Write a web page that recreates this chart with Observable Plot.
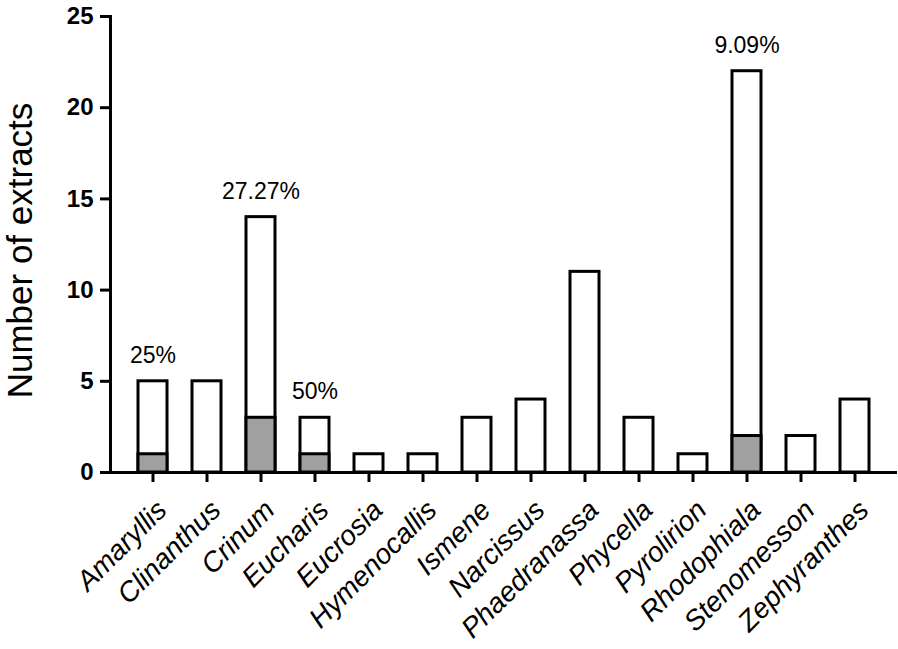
<!DOCTYPE html>
<html>
<head>
<meta charset="utf-8">
<script src="https://cdn.jsdelivr.net/npm/d3@7"></script>
<script src="https://cdn.jsdelivr.net/npm/@observablehq/plot@0.6"></script>
<style>
  html, body { margin: 0; padding: 0; background: #fff; }
  #chart { width: 898px; height: 649px; }
</style>
</head>
<body>
<div id="chart"></div>
<script>
const genera = ["Amaryllis", "Clinanthus", "Crinum", "Eucharis", "Eucrosia", "Hymenocallis", "Ismene", "Narcissus", "Phaedranassa", "Phycella", "Pyrolirion", "Rhodophiala", "Stenomesson", "Zephyranthes"];
const totalExtracts = [5, 5, 14, 3, 1, 1, 3, 4, 11, 3, 1, 22, 2, 4];
const activeExtracts = [1, 0, 3, 1, 0, 0, 0, 0, 0, 0, 0, 2, 0, 0];
const percentLabels = ["25%", "", "27.27%", "50%", "", "", "", "", "", "", "", "9.09%", "", ""];
const yTicks = [0, 5, 10, 15, 20, 25];

const rows = genera.map((g, i) => ({genus: g, total: totalExtracts[i], active: activeExtracts[i], pct: percentLabels[i]}));

const font = "'Liberation Sans', Arial, Helvetica, sans-serif";

const chart = Plot.plot({
  width: 898,
  height: 649,
  marginTop: 16,
  marginBottom: 177,
  marginLeft: 110,
  marginRight: 1,
  style: {fontFamily: font, background: "white", color: "black"},
  x: {domain: genera, paddingInner: 0.47, paddingOuter: 0.47},
  y: {domain: [0, 25]},
  marks: [
    Plot.barY(rows, {x: "genus", y: "total", fill: "white", stroke: "black", strokeWidth: 3}),
    Plot.barY(rows.filter(d => d.active > 0), {x: "genus", y: "active", fill: "#a0a0a0", stroke: "black", strokeWidth: 3}),
    Plot.text(rows.filter(d => d.pct), {x: "genus", y: "total", text: "pct", dy: -26, fontSize: 23, lineAnchor: "middle"}),
    Plot.ruleY([0], {stroke: "black", strokeWidth: 3}),
    Plot.frame({anchor: "left", stroke: "black", strokeWidth: 3}),
    Plot.axisY({ticks: yTicks, tickSize: 10, tickPadding: 7, strokeWidth: 3, fontSize: 24, fontWeight: "bold", label: null}),
    Plot.axisX({tickSize: 10, strokeWidth: 3, fill: "none", label: null}),
    Plot.text(rows, {x: "genus", text: "genus", frameAnchor: "bottom", rotate: -45, textAnchor: "end", lineAnchor: "middle", dx: 9, dy: 33, fontSize: 28, fontStyle: "italic"}),
    Plot.text(["Number of extracts"], {frameAnchor: "left", rotate: -90, textAnchor: "middle", lineAnchor: "middle", dx: -90, dy: 6, fontSize: 35})
  ]
});
document.getElementById("chart").appendChild(chart);
</script>
</body>
</html>
